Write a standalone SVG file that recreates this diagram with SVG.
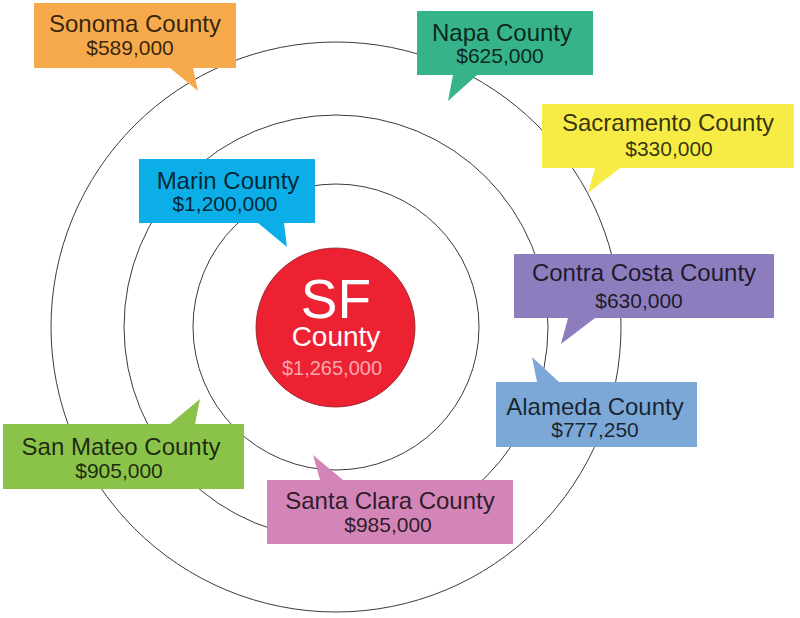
<svg xmlns="http://www.w3.org/2000/svg" width="800" height="618" viewBox="0 0 800 618">
  <style>
    .ring { fill: none; stroke: #3a3a3a; stroke-width: 1; }
    .l1 { font-family: "Liberation Sans", Arial, sans-serif; font-size: 24px; fill: #000; fill-opacity: 0.8; text-anchor: middle; }
    .l2 { font-family: "Liberation Sans", Arial, sans-serif; font-size: 21px; fill: #000; fill-opacity: 0.8; text-anchor: middle; }
    .sf { font-family: "Liberation Sans", Arial, sans-serif; text-anchor: middle; }
  </style>
  <rect x="0" y="0" width="800" height="618" fill="#ffffff"/>
  <g id="connectors">
    <circle class="ring" cx="336" cy="327" r="285"/>
    <circle class="ring" cx="336" cy="327" r="212"/>
    <circle class="ring" cx="336" cy="327" r="143"/>
  </g>
  <g id="sf">
    <circle cx="335.5" cy="327.5" r="79.5" fill="#ec2232" stroke="#8a1a22" stroke-width="0.8"/>
    <text class="sf" x="336" y="318" font-size="55" fill="#ffffff">SF</text>
    <text class="sf" x="336" y="346" font-size="28" fill="#ffffff">County</text>
    <text class="sf" x="332" y="375" font-size="20" fill="#f9a7ad">$1,265,000</text>
  </g>
  <g id="sonoma">
    <path d="M34,3 H236 V68 H193 L198,91 L170,68 H34 Z" fill="#f7aa4b"/>
    <text class="l1" x="135" y="32">Sonoma County</text>
    <text class="l2" x="130" y="55">$589,000</text>
  </g>
  <g id="napa">
    <path d="M417,11 H593 V75 H477 L448,101 L453,75 H417 Z" fill="#36b38a"/>
    <text class="l1" x="502" y="41">Napa County</text>
    <text class="l2" x="500" y="63">$625,000</text>
  </g>
  <g id="sacramento">
    <path d="M542,104 H794 V168 H620 L588,193 L595,168 H542 Z" fill="#f7ec46"/>
    <text class="l1" x="668" y="131">Sacramento County</text>
    <text class="l2" x="669" y="156">$330,000</text>
  </g>
  <g id="marin">
    <path d="M139,159 H315 V223 H284 L287,247 L258,223 H139 Z" fill="#0caee8"/>
    <text class="l1" x="228" y="189">Marin County</text>
    <text class="l2" x="225" y="211">$1,200,000</text>
  </g>
  <g id="contra-costa">
    <path d="M514,254 H774 V318 H595 L561,344 L568,318 H514 Z" fill="#8e7dbe"/>
    <text class="l1" x="644" y="281">Contra Costa County</text>
    <text class="l2" x="639" y="308">$630,000</text>
  </g>
  <g id="alameda">
    <path d="M496,382 H537 L532,357 L559,382 H697 V447 H496 Z" fill="#7ca8d8"/>
    <text class="l1" x="595" y="415">Alameda County</text>
    <text class="l2" x="595" y="437">$777,250</text>
  </g>
  <g id="san-mateo">
    <path d="M3,424 H170 L200,399 L195,424 H244 V489 H3 Z" fill="#8bc34a"/>
    <text class="l1" x="121" y="455">San Mateo County</text>
    <text class="l2" x="119" y="478">$905,000</text>
  </g>
  <g id="santa-clara">
    <path d="M267,480 H320 L313,455 L343,480 H513 V544 H267 Z" fill="#d385b7"/>
    <text class="l1" x="390" y="509">Santa Clara County</text>
    <text class="l2" x="388" y="532">$985,000</text>
  </g>
</svg>
